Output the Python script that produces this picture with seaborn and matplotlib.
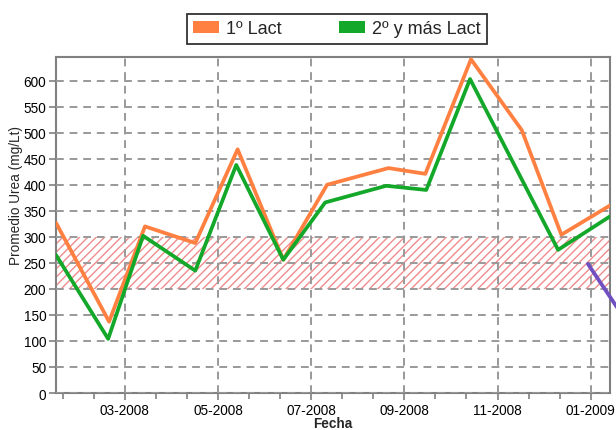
import matplotlib
matplotlib.use("Agg")
import matplotlib.pyplot as plt
import seaborn as sns
from matplotlib.patches import Patch
from matplotlib.ticker import MultipleLocator

# ── Data (x in months since Jan 2008) ─────────────────────────────────────────
x_lact1 = [0.52, 1.66, 2.43, 3.51, 4.42, 5.40, 6.34, 7.66, 8.45, 9.43, 10.52, 11.37, 12.41]
y_lact1 = [327, 137, 320, 288, 468, 256, 400, 432, 421, 641, 505, 304, 360]

x_lact2 = [0.52, 1.64, 2.39, 3.51, 4.39, 5.40, 6.30, 7.61, 8.47, 9.41, 11.30, 12.41]
y_lact2 = [265, 104, 302, 235, 438, 256, 366, 398, 390, 603, 275, 339]

x_extra = [11.94, 12.60]
y_extra = [248, 160]

tick_pos = [2, 4, 6, 8, 10, 12]
tick_labels = ["03-2008", "05-2008", "07-2008", "09-2008", "11-2008", "01-2009"]

band_low, band_high = 200, 300

sns.set_style("white")
plt.rcParams["font.family"] = ["Liberation Sans", "DejaVu Sans"]

fig = plt.figure(figsize=(6.16, 4.31), dpi=100)
ax = fig.add_axes([0.0909, 0.0858, 0.899, 0.7792])

# reference band
ax.axhspan(band_low, band_high, facecolor="white", edgecolor="#f08c8c",
           hatch="////", linewidth=0, zorder=1)

ax.grid(True, which="major", color="#999999", linestyle=(0, (4, 3)), linewidth=1.4, zorder=2)
ax.set_axisbelow(False)

sns.lineplot(x=x_lact1, y=y_lact1, color="#ff8040", linewidth=2.7, ax=ax, zorder=4, sort=False)
sns.lineplot(x=x_lact2, y=y_lact2, color="#14a82a", linewidth=2.7, ax=ax, zorder=5, sort=False)
sns.lineplot(x=x_extra, y=y_extra, color="#7050c0", linewidth=2.7, ax=ax, zorder=5,
             sort=False, clip_on=False)

ax.set_xlim(0.52, 12.41)
ax.set_ylim(0, 645)
ax.set_yticks(range(0, 601, 50))
ax.set_xticks(tick_pos)
ax.set_xticklabels(tick_labels)
ax.xaxis.set_minor_locator(MultipleLocator(2 / 3))

for s in ax.spines.values():
    s.set_color("#808080")
    s.set_linewidth(1.5)

ax.tick_params(axis="both", which="major", direction="out", length=5, width=1.2,
               color="#808080", labelsize=9.8, labelcolor="black", pad=2)
ax.tick_params(axis="x", which="minor", direction="out", length=4, width=1.2,
               color="#808080", bottom=True)
ax.tick_params(axis="x", which="both", bottom=True)
ax.tick_params(axis="y", which="both", left=True)

ax.set_xlabel("Fecha", fontsize=9.8, fontweight="bold")
ax.xaxis.set_label_coords(0.5, -0.068)
ax.set_ylabel("Promedio Urea (mg/Lt)", fontsize=9.8)
ax.yaxis.set_label_coords(-0.06, 0.59)

handles = [Patch(facecolor="#ff8040", edgecolor="none", label="1º Lact"),
           Patch(facecolor="#14a82a", edgecolor="none", label="2º y más Lact")]
leg = fig.legend(handles=handles, loc="center", bbox_to_anchor=(0.547, 0.931), ncol=2,
                 fontsize=13, frameon=True, fancybox=False, edgecolor="black",
                 handlelength=1.4, handleheight=0.6, columnspacing=3.2,
                 handletextpad=0.4, borderpad=0.35)
leg.get_frame().set_linewidth(1.3)

fig.savefig("out.png", dpi=100)
